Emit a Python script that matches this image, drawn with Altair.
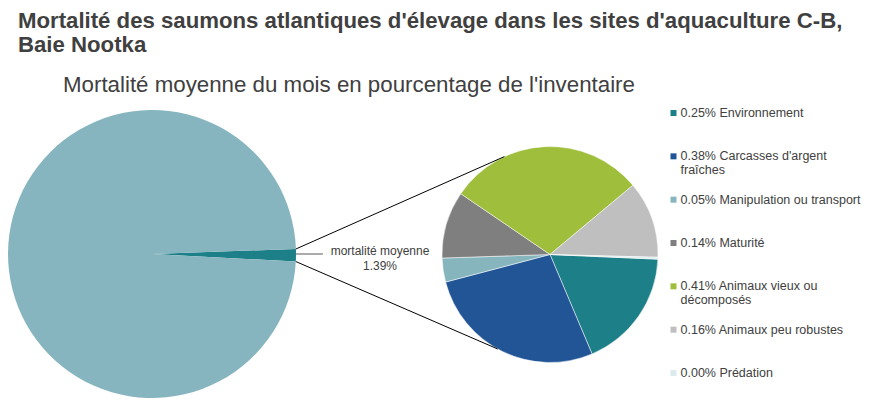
import math

import altair as alt
import pandas as pd

# Textes
title_lines = ["Mortalité des saumons atlantiques d'élevage dans les sites d'aquaculture C-B,",
               "Baie Nootka"]
subtitle = "Mortalité moyenne du mois en pourcentage de l'inventaire"
callout = ["mortalité moyenne", "1.39%"]

# Camembert principal : mortalité moyenne vs reste de l'inventaire
total_groups = ["mortalité moyenne", "inventaire"]
total_pct = [1.39, 98.61]
total_colors = ["#1d7f87", "#87b5bf"]

# Camembert secondaire : répartition de la mortalité par cause
causes = ["Environnement", "Carcasses d'argent fraîches", "Manipulation ou transport",
          "Maturité", "Animaux vieux ou décomposés", "Animaux peu robustes", "Prédation"]
cause_pct = [0.25, 0.38, 0.05, 0.14, 0.41, 0.16, 0.004]
cause_labels = ["0.25% Environnement", "0.38% Carcasses d'argent\nfraîches",
                "0.05% Manipulation ou transport", "0.14% Maturité",
                "0.41% Animaux vieux ou\ndécomposés", "0.16% Animaux peu robustes",
                "0.00% Prédation"]
cause_colors = ["#1d7f87", "#225596", "#86b5be", "#7f7f7f", "#9fbe3b", "#bfbfbf", "#dbeaec"]

FONT = "Liberation Sans"
TEXT = "#404040"
W, H, PT = 859, 330, 60

# geometrie (coordonnees de la vue)
big_cx, big_cy, big_r = 144, 186, 144
small_cx, small_cy, small_r = 542, 186.5, 108
big_start = 88.0
small_start = 92.5


def pt(cx, cy, r, deg):
    a = math.radians(deg)
    return cx + r * math.sin(a), cy - r * math.cos(a)


slice_deg = total_pct[0] / sum(total_pct) * 360
p1 = pt(big_cx, big_cy, big_r, big_start)
p2 = pt(big_cx, big_cy, big_r, big_start + slice_deg)
q1 = pt(small_cx, small_cy, small_r, 335)
q2 = pt(small_cx, small_cy, small_r, 209)

totals = pd.DataFrame({"idx": range(len(total_groups)), "group": total_groups, "pct": total_pct})
detail = pd.DataFrame({"idx": range(len(causes)), "cause": causes, "pct": cause_pct,
                       "label": [l.split("\n") for l in cause_labels]})
connectors = pd.DataFrame({"x": [p1[0], p2[0]], "y": [p1[1], p2[1]],
                           "x2": [q1[0], q2[0]], "y2": [q1[1], q2[1]]})

rad = lambda d: math.radians(d)

bigPie = alt.Chart(totals).mark_arc(outerRadius=big_r).encode(
    x=alt.value(big_cx),
    y=alt.value(big_cy),
    theta=alt.Theta("pct:Q", stack=True,
                    scale=alt.Scale(range=[rad(big_start), rad(big_start) + 2 * math.pi])),
    order=alt.Order("idx:Q"),
    color=alt.Color("group:N", scale=alt.Scale(domain=total_groups, range=total_colors), legend=None)
)

smallPie = alt.Chart(detail).mark_arc(outerRadius=small_r, stroke="white", strokeWidth=0.5).encode(
    x=alt.value(small_cx),
    y=alt.value(small_cy),
    theta=alt.Theta("pct:Q", stack=True,
                    scale=alt.Scale(range=[rad(small_start), rad(small_start) + 2 * math.pi])),
    order=alt.Order("idx:Q"),
    color=alt.Color("cause:N", scale=alt.Scale(domain=causes, range=cause_colors), legend=None)
)

lines = alt.Chart(connectors).mark_rule(color="black", strokeWidth=1).encode(
    x=alt.X("x:Q", scale=None), y=alt.Y("y:Q", scale=None),
    x2="x2:Q", y2="y2:Q"
)

leader = alt.Chart(totals.head(1)).mark_rule(color="#595959", strokeWidth=1).encode(
    x=alt.value(p1[0]), x2=alt.value(p1[0] + 27), y=alt.value(big_cy)
)

calloutText = alt.Chart(totals.head(1)).mark_text(
    font=FONT, fontSize=12, color=TEXT, align="center", baseline="alphabetic", lineHeight=15
).encode(x=alt.value(372), y=alt.value(187), text=alt.value(callout))

subtitleText = alt.Chart(totals.head(1)).mark_text(
    font=FONT, fontSize=22.3, color=TEXT, align="left", baseline="alphabetic"
).encode(x=alt.value(55), y=alt.value(24), text=alt.value(subtitle))

legend_y = alt.Y("cause:N", sort=causes, axis=None,
                 scale=alt.Scale(type="point", domain=causes, range=[45, 305], padding=0))

legendSquares = alt.Chart(detail).mark_square(size=36, opacity=1).encode(
    x=alt.value(665.5),
    y=legend_y,
    color=alt.Color("cause:N", scale=alt.Scale(domain=causes, range=cause_colors), legend=None)
)

legendText = alt.Chart(detail).mark_text(
    font=FONT, fontSize=12.5, color=TEXT, align="left", baseline="alphabetic", dy=4, lineHeight=14
).encode(x=alt.value(672.5), y=legend_y, text="label")

chart = alt.layer(
    bigPie, smallPie, lines, leader, calloutText, subtitleText, legendSquares, legendText
).resolve_scale(
    theta="independent", color="independent"
).properties(
    width=W, height=H,
    autosize=alt.AutoSizeParams(type="none"),
    padding={"top": PT, "left": 0, "right": 0, "bottom": 0},
    title=alt.TitleParams(text=title_lines, anchor="start", frame="group", font=FONT,
                          fontSize=22.2, fontWeight="bold", color=TEXT, lineHeight=23.4,
                          dx=10, offset=12)
).configure_view(stroke=None)

chart.save("out.html", embed_options={"renderer": "svg", "actions": False})
